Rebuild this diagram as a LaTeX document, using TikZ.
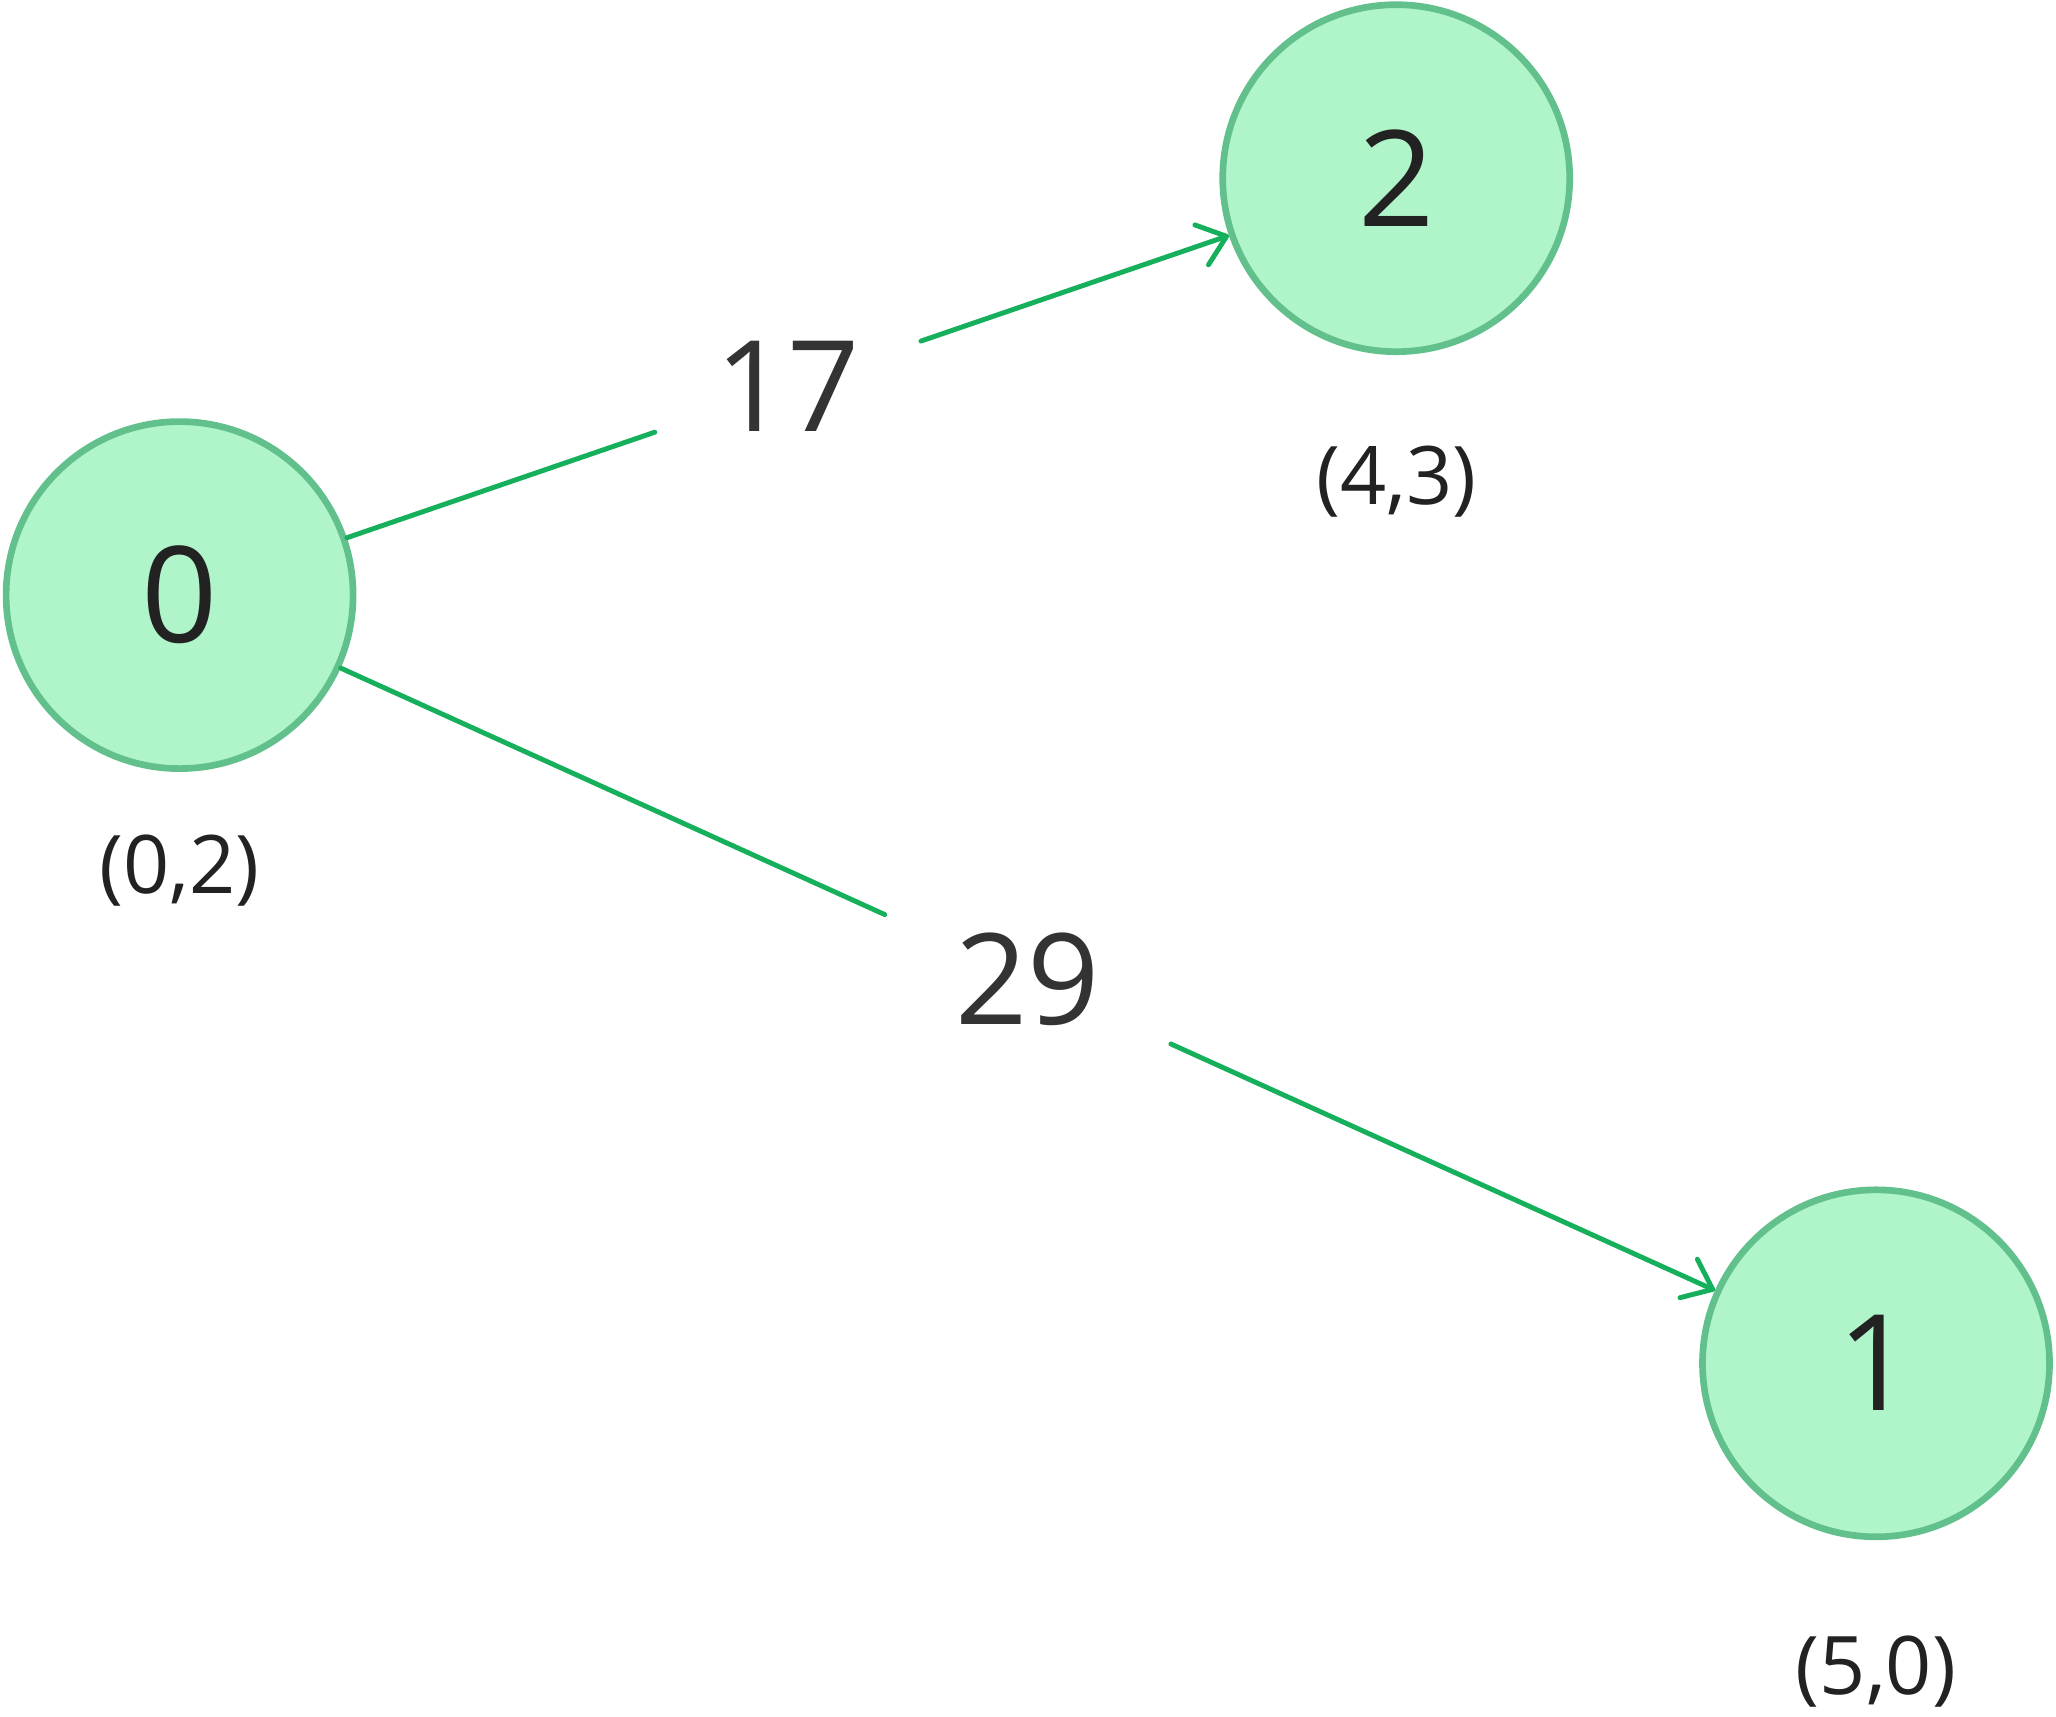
\documentclass[tikz,border=0pt]{standalone}
\usepackage{fontspec}
\setmainfont{Open Sans}
\usetikzlibrary{arrows.meta,positioning,calc}
\definecolor{edgegreen}{RGB}{22,176,92}
\definecolor{nodefill}{RGB}{176,245,201}
\definecolor{nodeborder}{RGB}{98,192,140}
\definecolor{labeltext}{RGB}{34,34,34}
\definecolor{weighttext}{RGB}{51,51,51}

\begin{document}
\begin{tikzpicture}[
    vertex/.style={circle, draw=nodeborder, fill=nodefill, line width=1.9pt, minimum size=3.47cm, inner sep=0pt, font=\fontsize{38}{40}\selectfont, text=labeltext},
    coordlabel/.style={inner sep=0pt, font=\fontsize{23}{25}\selectfont, text=labeltext},
    weight/.style={rectangle, inner xsep=0.6cm, inner ysep=0.25cm, font=\fontsize{36}{38}\selectfont, text=weighttext},
    edge/.style={draw=edgegreen, line width=1.4pt, line cap=round},
    arrow/.style={edge, -{Straight Barb[length=7.5pt, width=12pt, round]}}
]
    \useasboundingbox (0,0) rectangle (20.56,17.16);

    \node[vertex] (n0) at (1.796,11.209) {0};
    \node[vertex] (n2) at (13.962,15.378) {2};
    \node[vertex] (n1) at (18.760,3.527) {1};

    \node[coordlabel, below=0.62cm of n0] (c0) {(0,2)};
    \node[coordlabel, below=0.9cm of n2] (c2) {(4,3)};
    \node[coordlabel, below=0.95cm of n1] (c1) {(5,0)};

    \node[weight] (w02) at ($(n0)!0.5!(n2)$) {17};
    \node[weight, inner xsep=0.7cm] (w01) at ($(n0)!0.5!(n1)$) {29};

    \draw[edge] (n0) -- (w02);
    \draw[arrow] (w02) -- (n2);
    \draw[edge] (n0) -- (w01);
    \draw[arrow] (w01) -- (n1);
\end{tikzpicture}
\end{document}
